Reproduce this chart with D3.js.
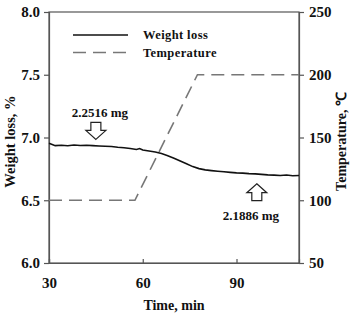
<!DOCTYPE html>
<html>
<head>
<meta charset="utf-8">
<script src="https://cdn.jsdelivr.net/npm/d3@7"></script>
<style>
  body { margin: 0; background: #fff; }
  text { font-family: "Liberation Serif", "Times New Roman", serif; font-weight: bold; fill: #111; }
</style>
</head>
<body>
<svg id="chart" width="360" height="314"></svg>
<script>
// weight loss curve (%)
const timeW = [30, 32, 34, 36, 38, 40, 42, 44, 46, 48, 50, 52, 54, 56, 58, 59, 60, 62, 64, 66, 68,
    70, 72, 74, 76, 78, 80, 82, 84, 86, 88, 90, 92, 94, 96, 98, 100, 102, 104, 106, 108, 110];
const weight = [6.955, 6.935, 6.938, 6.934, 6.940, 6.936, 6.938, 6.935, 6.932, 6.930, 6.928, 6.922,
    6.918, 6.912, 6.905, 6.912, 6.900, 6.893, 6.885, 6.872, 6.855, 6.835, 6.812, 6.790, 6.768, 6.752,
    6.742, 6.736, 6.731, 6.727, 6.722, 6.718, 6.716, 6.712, 6.710, 6.706, 6.702, 6.700, 6.697, 6.701,
    6.695, 6.697];

// temperature program
const timeT = [30, 57.5, 77.5, 110];
const temp = [100, 100, 200, 200];

const xTicks = [30, 60, 90];
const yTicks = [6.0, 6.5, 7.0, 7.5, 8.0];
const y2Ticks = [50, 100, 150, 200, 250];

// mass labels with arrows
const annTime = [45, 96.5];
const annWeight = [6.985, 6.632];
const annText = ["2.2516 mg", "2.1886 mg"];
const annDir = ["down", "up"];

const svg = d3.select("#chart");
const mLeft = 49, mRight = 299, mTop = 12, mBottom = 263;

const x = d3.scaleLinear().domain([30, 110]).range([mLeft, mRight]);
const y = d3.scaleLinear().domain([6, 8]).range([mBottom, mTop]);
const y2 = d3.scaleLinear().domain([50, 250]).range([mBottom, mTop]);

const axisColor = "#555";

// frame
svg.append("rect")
    .attr("x", mLeft).attr("y", mTop)
    .attr("width", mRight - mLeft).attr("height", mBottom - mTop)
    .attr("fill", "none").attr("stroke", axisColor).attr("stroke-width", 1.2);

// left axis
const gy = svg.append("g").attr("transform", `translate(${mLeft},0)`)
    .call(d3.axisLeft(y).tickValues(yTicks).tickFormat(d3.format(".1f")).tickSize(5).tickPadding(4));
// right axis
const gy2 = svg.append("g").attr("transform", `translate(${mRight},0)`)
    .call(d3.axisRight(y2).tickValues(y2Ticks).tickSize(5).tickPadding(5));
// bottom axis, ticks inside
const gx = svg.append("g").attr("transform", `translate(0,${mBottom})`)
    .call(d3.axisBottom(x).tickValues(xTicks).tickSize(-4).tickPadding(14));

[gy, gy2, gx].forEach(g => {
    g.select(".domain").attr("stroke", axisColor).attr("stroke-width", 1.2);
    g.selectAll(".tick line").attr("stroke", axisColor).attr("stroke-width", 1.2);
    g.selectAll(".tick text")
        .attr("fill", "#111")
        .style("font-family", "'Liberation Serif', serif")
        .style("font-weight", "bold")
        .style("font-size", "15px");
});

// temperature dashed line
svg.append("path")
    .datum(timeT.map((t, i) => [t, temp[i]]))
    .attr("fill", "none")
    .attr("stroke", "#777")
    .attr("stroke-width", 1.6)
    .attr("stroke-dasharray", "13,7")
    .attr("d", d3.line().x(d => x(d[0])).y(d => y2(d[1])));

// weight loss line
svg.append("path")
    .datum(timeW.map((t, i) => [t, weight[i]]))
    .attr("fill", "none")
    .attr("stroke", "#111")
    .attr("stroke-width", 1.6)
    .attr("d", d3.line().x(d => x(d[0])).y(d => y(d[1])));

// hollow block arrows and labels
function arrowPath(cx, tip, dir) {
    const s = dir === "down" ? -1 : 1; // direction from tip to tail
    const head = 9, len = 17, hw = 10, sw = 5;
    const pts = [
        [cx, tip],
        [cx + hw, tip + s * head],
        [cx + sw, tip + s * head],
        [cx + sw, tip + s * len],
        [cx - sw, tip + s * len],
        [cx - sw, tip + s * head],
        [cx - hw, tip + s * head]
    ];
    return "M" + pts.map(p => p.join(",")).join("L") + "Z";
}

annTime.forEach((t, i) => {
    const cx = x(t), tip = y(annWeight[i]);
    svg.append("path")
        .attr("d", arrowPath(cx, tip, annDir[i]))
        .attr("fill", "#fff")
        .attr("stroke", "#222")
        .attr("stroke-width", 1.2);
    const ty = annDir[i] === "down" ? tip - 22 : tip + 36;
    svg.append("text")
        .attr("x", annDir[i] === "down" ? cx + 4 : cx - 6)
        .attr("y", ty)
        .attr("text-anchor", "middle")
        .style("font-size", "13px")
        .text(annText[i]);
});

// legend
const legend = [
    { label: "Weight loss", color: "#111", dash: null },
    { label: "Temperature", color: "#777", dash: "13,7" }
];
legend.forEach((d, i) => {
    const ly = 35 + i * 17.5;
    svg.append("line")
        .attr("x1", 73).attr("x2", 128).attr("y1", ly).attr("y2", ly)
        .attr("stroke", d.color).attr("stroke-width", 1.6)
        .attr("stroke-dasharray", d.dash);
    svg.append("text")
        .attr("x", 143).attr("y", ly + 4)
        .style("font-size", "12.5px")
        .style("letter-spacing", "0.4px")
        .text(d.label);
});

// axis titles
svg.append("text")
    .attr("transform", `translate(15,${(mTop + mBottom) / 2 + 4}) rotate(-90)`)
    .attr("text-anchor", "middle")
    .style("font-size", "14.5px")
    .text("Weight loss, %");

svg.append("text")
    .attr("transform", `translate(346,${(mTop + mBottom) / 2 + 4}) rotate(-90)`)
    .attr("text-anchor", "middle")
    .style("font-size", "14px")
    .text("Temperature, ℃");

svg.append("text")
    .attr("x", (mLeft + mRight) / 2).attr("y", 310)
    .attr("text-anchor", "middle")
    .style("font-size", "14px")
    .text("Time, min");
</script>
</body>
</html>
